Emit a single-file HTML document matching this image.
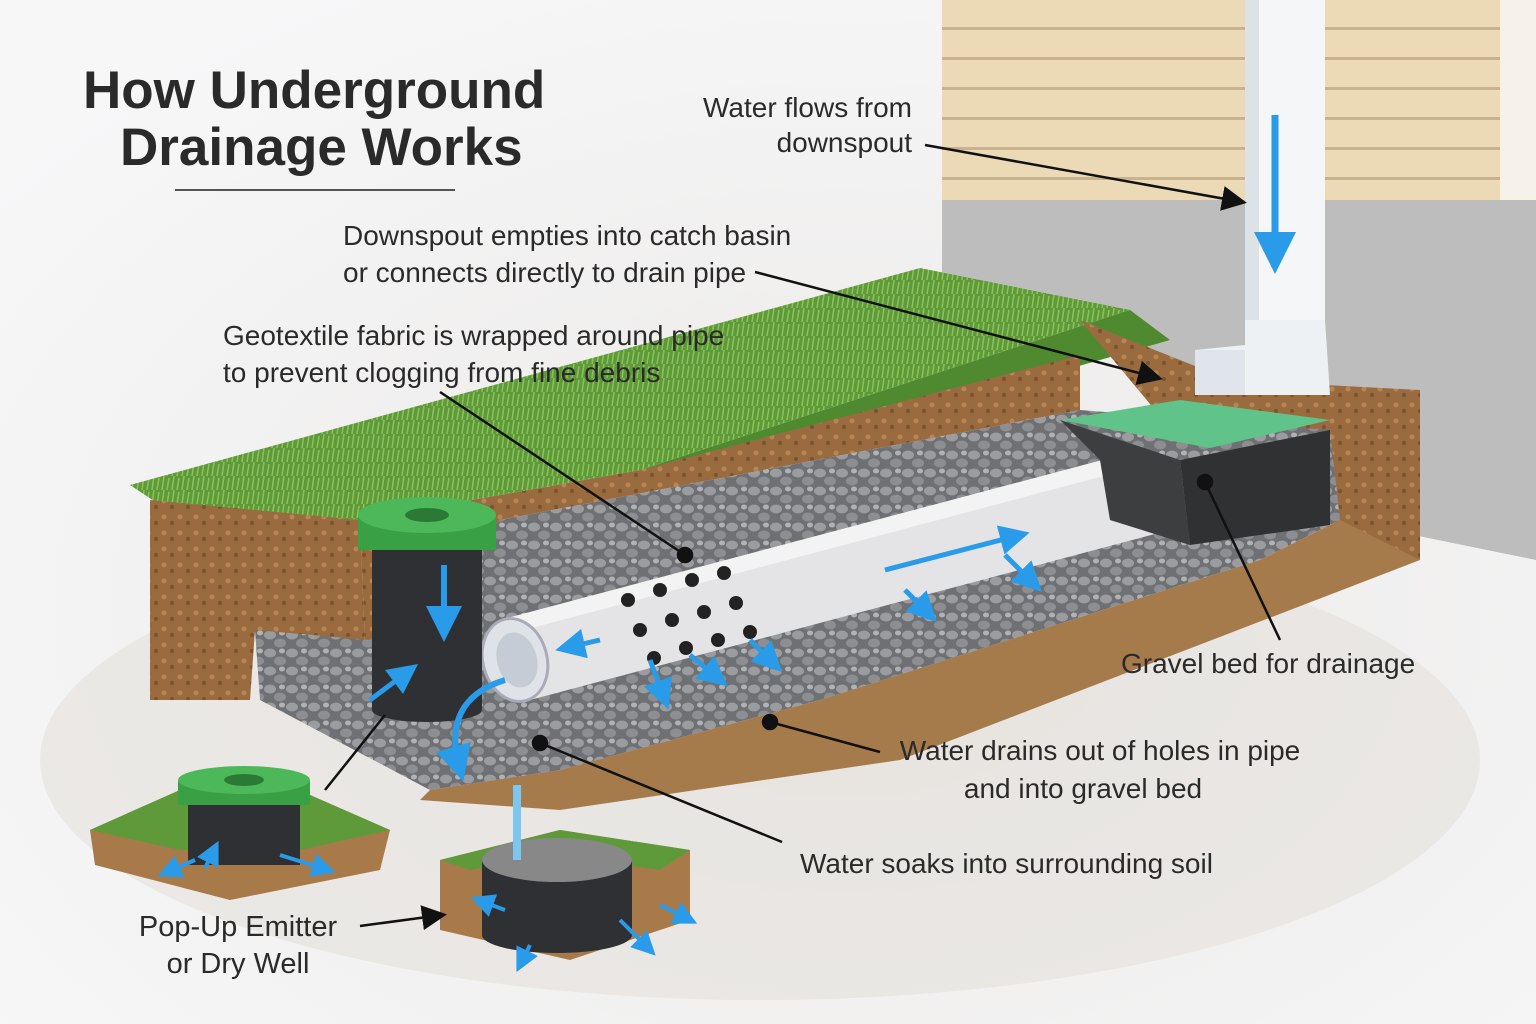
<!DOCTYPE html>
<html><head><meta charset="utf-8"><style>
html,body{margin:0;padding:0;background:#f4f4f5;}
svg{display:block}
text{font-family:"Liberation Sans",sans-serif;fill:#2a2a2a}
</style></head><body>
<svg width="1536" height="1024" viewBox="0 0 1536 1024" xmlns="http://www.w3.org/2000/svg">
<defs>
<radialGradient id="bg" cx="0.55" cy="0.6" r="0.7"><stop offset="0" stop-color="#ebe9e7"/><stop offset="1" stop-color="#f7f7f8"/></radialGradient>
<pattern id="sid" width="600" height="30" patternUnits="userSpaceOnUse"><rect width="600" height="30" fill="#ecd9b5"/><rect y="27" width="600" height="3" fill="#c9b38e"/></pattern>
<pattern id="grav" width="22" height="18" patternUnits="userSpaceOnUse"><rect width="22" height="18" fill="#6e7073"/><ellipse cx="6" cy="5" rx="6" ry="4.5" fill="#9a9c9f"/><ellipse cx="16" cy="13" rx="6" ry="4.5" fill="#8c8e91"/><ellipse cx="18" cy="3" rx="3" ry="2.5" fill="#b0b2b4"/></pattern>
<pattern id="soil" width="16" height="16" patternUnits="userSpaceOnUse"><rect width="16" height="16" fill="#9a6b3f"/><circle cx="4" cy="5" r="2.5" fill="#b88655"/><circle cx="12" cy="11" r="2" fill="#7a522e"/></pattern>
<pattern id="grass" width="10" height="14" patternUnits="userSpaceOnUse"><rect width="10" height="14" fill="#5f9a3a"/><path d="M2 14 L4 0 M7 14 L9 2" stroke="#8cc25a" stroke-width="1.5"/></pattern>
<marker id="ah" markerWidth="10" markerHeight="10" refX="8" refY="5" orient="auto"><path d="M0,0 L10,5 L0,10 z" fill="#111"/></marker>
<marker id="bh" markerWidth="6" markerHeight="6" refX="4" refY="3" orient="auto"><path d="M0,0 L6,3 L0,6 z" fill="#2a9be8"/></marker>
</defs>
<rect width="1536" height="1024" fill="url(#bg)"/>
<ellipse cx="760" cy="760" rx="720" ry="240" fill="#e2ded8" opacity="0.5"/>
<!-- house -->
<rect x="942" y="0" width="594" height="205" fill="url(#sid)"/>
<rect x="1500" y="0" width="36" height="390" fill="#f6f2ea"/>
<polygon points="942,200 1500,200 1536,200 1536,560 1340,520 1100,330 942,300" fill="#bdbdbd"/>
<!-- grass strip & soil trench -->
<polygon points="130,485 920,268 1130,310 640,470 360,520 160,505" fill="url(#grass)"/>
<polygon points="640,470 1130,310 1170,340 1030,380 700,470" fill="#4f8a30"/>
<polygon points="150,500 360,520 365,645 150,620" fill="url(#soil)"/>
<polygon points="360,520 640,470 1080,355 1080,410 500,520 365,645" fill="url(#soil)"/>
<polygon points="1080,320 1230,380 1420,390 1420,560 1330,520 1180,440" fill="url(#soil)"/>
<polygon points="150,620 255,630 250,700 150,700" fill="url(#soil)"/>
<!-- gravel -->
<polygon points="255,630 370,640 500,520 1080,410 1330,430 1340,520 1260,560 820,700 560,770 430,790 260,700" fill="url(#grav)"/>
<polygon points="1340,520 1420,560 900,760 560,810 420,800 430,790 560,770 820,700 1260,560" fill="#a67b4c"/>
<!-- pipe -->
<polygon points="500,620 1140,450 1170,530 530,700" fill="#e4e4e6"/>
<polygon points="500,620 1140,450 1145,465 505,635" fill="#f3f3f3"/>
<ellipse cx="515" cy="660" rx="32" ry="42" transform="rotate(-15 515 660)" fill="#dfe3e7" stroke="#aab" stroke-width="3"/>
<ellipse cx="517" cy="660" rx="20" ry="28" transform="rotate(-15 517 660)" fill="#c5ccd3"/>
<g fill="#222"><circle cx="628" cy="600" r="7"/><circle cx="660" cy="590" r="7"/><circle cx="692" cy="580" r="7"/><circle cx="724" cy="573" r="7"/><circle cx="640" cy="630" r="7"/><circle cx="672" cy="620" r="7"/><circle cx="704" cy="612" r="7"/><circle cx="736" cy="603" r="7"/><circle cx="654" cy="658" r="7"/><circle cx="686" cy="648" r="7"/><circle cx="718" cy="640" r="7"/><circle cx="750" cy="632" r="7"/></g>
<!-- catch basin -->
<polygon points="1060,420 1180,400 1330,420 1210,448" fill="#5fc38a"/>
<polygon points="1180,460 1330,430 1330,525 1190,545" fill="#2f3133"/>
<polygon points="1060,420 1180,460 1190,545 1110,520 1100,460" fill="#3c3e40"/>
<!-- downspout -->
<rect x="1245" y="0" width="80" height="330" fill="#f4f6f8"/>
<rect x="1245" y="0" width="14" height="330" fill="#dde2e6"/>
<polygon points="1245,320 1325,320 1330,395 1195,395 1195,350 1245,345" fill="#eef1f4"/>
<rect x="1195" y="350" width="50" height="45" fill="#dfe5ea"/>
<line x1="1275" y1="115" x2="1275" y2="260" stroke="#2a9be8" stroke-width="7" marker-end="url(#bh)"/>
<!-- pop-up emitter in trench -->
<rect x="372" y="540" width="110" height="170" fill="#2e3033"/>
<ellipse cx="427" cy="710" rx="55" ry="12" fill="#2e3033"/>
<rect x="358" y="515" width="138" height="35" fill="#3aa045"/>
<ellipse cx="427" cy="515" rx="69" ry="18" fill="#4cb85a"/>
<ellipse cx="427" cy="515" rx="22" ry="7" fill="#2a7a35"/>
<line x1="444" y1="565" x2="444" y2="630" stroke="#2a9be8" stroke-width="6" marker-end="url(#bh)"/>
<line x1="370" y1="700" x2="410" y2="670" stroke="#2a9be8" stroke-width="5" marker-end="url(#bh)"/>
<path d="M505,680 Q440,700 460,770" stroke="#2a9be8" stroke-width="6" fill="none" marker-end="url(#bh)"/>
<g stroke="#2a9be8" stroke-width="5" marker-end="url(#bh)">
<line x1="885" y1="570" x2="1020" y2="535"/><line x1="1005" y1="555" x2="1035" y2="585"/><line x1="905" y1="590" x2="930" y2="615"/>
<line x1="650" y1="660" x2="665" y2="700"/><line x1="690" y1="655" x2="720" y2="680"/><line x1="750" y1="640" x2="775" y2="665"/>
<line x1="600" y1="640" x2="565" y2="648"/></g>
<!-- small emitter -->
<polygon points="90,830 180,790 310,795 390,830 380,870 230,900 95,865" fill="#a87a4a"/>
<polygon points="90,830 180,790 310,795 390,830 300,850 180,850" fill="#5f9a3a"/>
<rect x="188" y="800" width="112" height="65" fill="#2e3033"/>
<rect x="178" y="780" width="132" height="25" fill="#3aa045"/>
<ellipse cx="244" cy="780" rx="66" ry="14" fill="#4cb85a"/>
<ellipse cx="244" cy="780" rx="20" ry="6" fill="#2a7a35"/>
<g stroke="#2a9be8" stroke-width="4" marker-end="url(#bh)"><line x1="195" y1="860" x2="165" y2="873"/><line x1="280" y1="855" x2="328" y2="870"/><line x1="205" y1="868" x2="215" y2="848"/></g>
<!-- dry well -->
<polygon points="440,860 560,830 690,850 690,920 570,960 440,930" fill="#a87a4a"/>
<polygon points="440,860 560,830 690,850 660,870 560,855 470,870" fill="#5f9a3a"/>
<rect x="482" y="860" width="150" height="75" fill="#2e3033"/>
<ellipse cx="557" cy="935" rx="75" ry="18" fill="#2e3033"/>
<ellipse cx="557" cy="860" rx="75" ry="22" fill="#888"/>
<rect x="513" y="785" width="8" height="75" fill="#7cc6f0"/>
<g stroke="#2a9be8" stroke-width="4" marker-end="url(#bh)"><line x1="660" y1="905" x2="690" y2="920"/><line x1="620" y1="920" x2="650" y2="950"/><line x1="530" y1="945" x2="520" y2="965"/><line x1="505" y1="910" x2="478" y2="900"/></g>
<!-- title -->
<text x="83" y="108" font-size="53" font-weight="bold">How Underground</text>
<text x="120" y="165" font-size="53" font-weight="bold">Drainage Works</text>
<line x1="175" y1="190" x2="455" y2="190" stroke="#555" stroke-width="2"/>
<!-- labels -->
<g font-size="28">
<text x="912" y="117" text-anchor="end">Water flows from</text>
<text x="912" y="152" text-anchor="end">downspout</text>
<text x="343" y="245">Downspout empties into catch basin</text>
<text x="343" y="282">or connects directly to drain pipe</text>
<text x="223" y="345">Geotextile fabric is wrapped around pipe</text>
<text x="223" y="382">to prevent clogging from fine debris</text>
<text x="1121" y="673">Gravel bed for drainage</text>
<text x="1100" y="760" text-anchor="middle">Water drains out of holes in pipe</text>
<text x="1083" y="798" text-anchor="middle">and into gravel bed</text>
<text x="800" y="873">Water soaks into surrounding soil</text>
<text x="238" y="936" text-anchor="middle" font-size="29">Pop-Up Emitter</text>
<text x="238" y="973" text-anchor="middle" font-size="29">or Dry Well</text>
</g>
<!-- leaders -->
<g stroke="#111" stroke-width="2.5" fill="#111">
<line x1="925" y1="145" x2="1242" y2="202" marker-end="url(#ah)"/>
<line x1="755" y1="272" x2="1158" y2="378" marker-end="url(#ah)"/>
<line x1="440" y1="392" x2="685" y2="555"/><circle cx="685" cy="555" r="7"/>
<line x1="1280" y1="640" x2="1205" y2="482"/><circle cx="1205" cy="482" r="7"/>
<line x1="880" y1="752" x2="770" y2="722"/><circle cx="770" cy="722" r="7"/>
<line x1="782" y1="842" x2="540" y2="743"/><circle cx="540" cy="743" r="7"/>
<line x1="360" y1="926" x2="442" y2="915" marker-end="url(#ah)"/>
<line x1="325" y1="790" x2="385" y2="715"/>
</g>
</svg>
</body></html>
